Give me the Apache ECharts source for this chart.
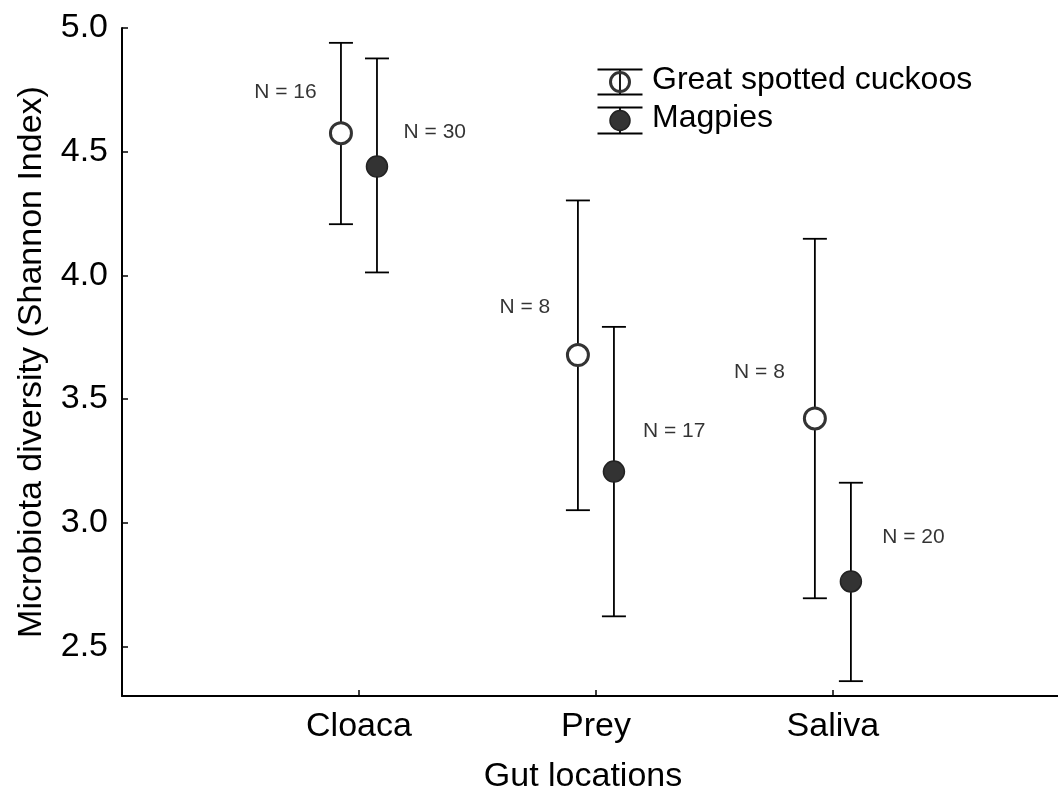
<!DOCTYPE html>
<html><head><meta charset="utf-8">
<script src="https://cdn.jsdelivr.net/npm/echarts@6/dist/echarts.min.js"></script>
<style>html,body{margin:0;padding:0;background:#fff}#c{width:1058px;height:799px}</style>
</head><body><div id="c"></div>
<script>
var categories = ['Cloaca', 'Prey', 'Saliva'];
var yTicks = [2.5, 3.0, 3.5, 4.0, 4.5, 5.0];
var seriesNames = ['Great spotted cuckoos', 'Magpies'];
var cuckooMean = [4.575, 3.678, 3.422];
var cuckooLow  = [4.207, 3.051, 2.695];
var cuckooHigh = [4.940, 4.303, 4.148];
var magpieMean = [4.440, 3.207, 2.763];
var magpieLow  = [4.012, 2.622, 2.360];
var magpieHigh = [4.877, 3.792, 3.162];
var cuckooN = [16, 8, 8];
var magpieN = [30, 17, 20];
// label anchor positions (data units): [x, y]
var cuckooNPos = [[0.69, 4.74], [1.70, 3.87], [2.69, 3.61]];
var magpieNPos = [[1.32, 4.58], [2.33, 3.37], [3.34, 2.94]];

var OFF = 0.076;
var FONT = 'Liberation Sans, Arial, sans-serif';
var INK = '#000';

function pts(mean, off) { return mean.map(function (m, i) { return [i + 1 + off, m]; }); }
function bars(lo, hi, off) { return lo.map(function (l, i) { return [i + 1 + off, l, hi[i]]; }); }

function errRender(params, api) {
  var x = api.value(0);
  var p1 = api.coord([x, api.value(1)]);
  var p2 = api.coord([x, api.value(2)]);
  var w = 12;
  var st = { stroke: INK, lineWidth: 1.8 };
  return { type: 'group', children: [
    { type: 'line', shape: { x1: p1[0], y1: p1[1], x2: p2[0], y2: p2[1] }, style: st },
    { type: 'line', shape: { x1: p1[0] - w, y1: p1[1], x2: p1[0] + w, y2: p1[1] }, style: st },
    { type: 'line', shape: { x1: p2[0] - w, y1: p2[1], x2: p2[0] + w, y2: p2[1] }, style: st }
  ]};
}

function nLabels(pos, n) {
  return { type: 'scatter', symbolSize: 1, silent: true, z: 5,
    itemStyle: { color: 'rgba(0,0,0,0)' },
    label: { show: true, position: 'inside', color: INK, fontFamily: FONT, fontSize: 21,
      formatter: function (p) { return 'N = ' + n[p.dataIndex]; } },
    data: pos };
}

var chart = echarts.init(document.getElementById('c'), null, { renderer: 'canvas' });
chart.setOption({
  animation: false,
  backgroundColor: '#fff',
  grid: { left: 122, right: 0, top: 28, bottom: 102 },
  xAxis: {
    type: 'value', min: 0, max: 3.95,
    name: 'Gut locations', nameLocation: 'middle', nameGap: 64,
    nameTextStyle: { fontFamily: FONT, fontSize: 34, color: INK, padding: [0, 14, 0, 0] },
    axisLine: { show: true, lineStyle: { color: INK, width: 2 } },
    axisTick: { show: true, inside: true, length: 6, customValues: [1, 2, 3], lineStyle: { color: INK, width: 1.5 } },
    axisLabel: { customValues: [1, 2, 3], margin: 14, fontFamily: FONT, fontSize: 34, color: INK,
      formatter: function (v) { return categories[Math.round(v) - 1] || ''; } },
    splitLine: { show: false }
  },
  yAxis: {
    type: 'value', min: 2.3, max: 5.0,
    name: 'Microbiota diversity (Shannon Index)', nameLocation: 'middle', nameGap: 73,
    nameTextStyle: { fontFamily: FONT, fontSize: 34, color: INK },
    axisLine: { show: true, lineStyle: { color: INK, width: 2 } },
    axisTick: { show: true, inside: true, length: 6, customValues: yTicks, lineStyle: { color: INK, width: 1.5 } },
    axisLabel: { customValues: yTicks, margin: 14, fontFamily: FONT, fontSize: 34, color: INK,
      formatter: function (v) { return v.toFixed(1); } },
    splitLine: { show: false }
  },
  series: [
    { type: 'custom', name: seriesNames[0] + ' err', renderItem: errRender, data: bars(cuckooLow, cuckooHigh, -OFF), z: 2, clip: false },
    { type: 'custom', name: seriesNames[1] + ' err', renderItem: errRender, data: bars(magpieLow, magpieHigh, OFF), z: 2, clip: false },
    { type: 'scatter', name: seriesNames[0], symbol: 'circle', symbolSize: 21, z: 4,
      itemStyle: { color: '#fff', borderColor: '#333', borderWidth: 3, opacity: 1 },
      data: pts(cuckooMean, -OFF) },
    { type: 'scatter', name: seriesNames[1], symbol: 'circle', symbolSize: 21, z: 4,
      itemStyle: { color: '#333', borderColor: '#222', borderWidth: 1.5, opacity: 1 },
      data: pts(magpieMean, OFF) },
    nLabels(cuckooNPos, cuckooN),
    nLabels(magpieNPos, magpieN)
  ],
  graphic: [
    { type: 'group', left: 595, top: 67, children: [
      { type: 'line', shape: { x1: 0, y1: 0, x2: 45, y2: 0 }, style: { stroke: INK, lineWidth: 1.8 } },
      { type: 'line', shape: { x1: 0, y1: 25, x2: 45, y2: 25 }, style: { stroke: INK, lineWidth: 1.8 } },
      { type: 'line', shape: { x1: 22.5, y1: 0, x2: 22.5, y2: 25 }, style: { stroke: INK, lineWidth: 1.8 } },
      { type: 'circle', shape: { cx: 22.5, cy: 12.5, r: 9.5 }, style: { fill: 'rgba(0,0,0,0)', stroke: '#333', lineWidth: 3 } }
    ]},
    { type: 'group', left: 595, top: 105, children: [
      { type: 'line', shape: { x1: 0, y1: 0, x2: 45, y2: 0 }, style: { stroke: INK, lineWidth: 1.8 } },
      { type: 'line', shape: { x1: 0, y1: 26, x2: 45, y2: 26 }, style: { stroke: INK, lineWidth: 1.8 } },
      { type: 'line', shape: { x1: 22.5, y1: 0, x2: 22.5, y2: 26 }, style: { stroke: INK, lineWidth: 1.8 } },
      { type: 'circle', shape: { cx: 22.5, cy: 13, r: 10 }, style: { fill: '#333', stroke: '#222', lineWidth: 1.5 } }
    ]},
    { type: 'text', x: 652, y: 80, style: { text: seriesNames[0], font: '32px ' + FONT, fill: INK, verticalAlign: 'middle' } },
    { type: 'text', x: 652, y: 118, style: { text: seriesNames[1], font: '32px ' + FONT, fill: INK, verticalAlign: 'middle' } }
  ]
});
</script></body></html>
